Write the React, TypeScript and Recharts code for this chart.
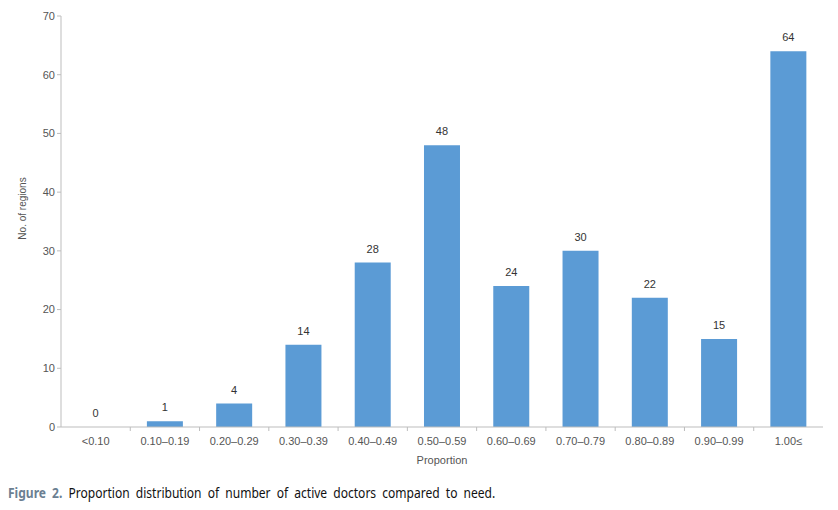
import { BarChart, Bar, XAxis, YAxis, LabelList } from "recharts";

const categories = [
  "<0.10",
  "0.10–0.19",
  "0.20–0.29",
  "0.30–0.39",
  "0.40–0.49",
  "0.50–0.59",
  "0.60–0.69",
  "0.70–0.79",
  "0.80–0.89",
  "0.90–0.99",
  "1.00≤",
];
const regions = [0, 1, 4, 14, 28, 48, 24, 30, 22, 15, 64];
const yTicks = [0, 10, 20, 30, 40, 50, 60, 70];

const data = categories.map((c, i) => ({ name: c, value: regions[i] }));

const FONT = "'Liberation Sans', Arial, sans-serif";

// category ticks with the tick mark drawn on the left boundary of each band
function BoundaryTick(props: any) {
  const { x, y, payload, index, width, visibleTicksCount } = props;
  const band = width / (visibleTicksCount || categories.length);
  return (
    <g>
      {index > 0 && (
        <line x1={x - band / 2} x2={x - band / 2} y1={y - 8} y2={y - 4} stroke="#bdbdbd" />
      )}
      <text x={x} y={y + 10} textAnchor="middle" fontSize={11} fill="#555" fontFamily={FONT}>
        {payload.value}
      </text>
    </g>
  );
}

function YTitle(props: any) {
  const { viewBox } = props;
  const cx = 22;
  const cy = viewBox.y + viewBox.height / 2 - 13;
  return (
    <text
      x={cx}
      y={cy}
      transform={`rotate(-90 ${cx} ${cy})`}
      textAnchor="middle"
      dominantBaseline="central"
      fontSize={10}
      fill="#555"
      fontFamily={FONT}
    >
      No. of regions
    </text>
  );
}

export default function App() {
  return (
    <div style={{ position: "absolute", left: 0, top: 0, width: 838, height: 510, background: "#fff" }}>
      <BarChart
        width={838}
        height={480}
        data={data}
        margin={{ top: 16, right: 15, bottom: 10, left: 10 }}
        barCategoryGap="24%"
      >
        <XAxis
          dataKey="name"
          tick={<BoundaryTick />}
          tickLine={false}
          axisLine={{ stroke: "#bdbdbd" }}
          height={43}
          interval={0}
          label={{ value: "Proportion", position: "insideBottom", offset: 6, fontSize: 11, fill: "#555", fontFamily: FONT }}
        />
        <YAxis
          domain={[0, 70]}
          ticks={yTicks}
          width={51}
          tickSize={4}
          tick={{ fontSize: 11, fill: "#555", fontFamily: FONT }}
          tickLine={{ stroke: "#bdbdbd" }}
          axisLine={{ stroke: "#bdbdbd" }}
          label={<YTitle />}
        />
        <Bar
          dataKey="value"
          fill="#5b9bd5"
          isAnimationActive={false}
          minPointSize={(v: number) => (v === 0 ? 0.01 : 0)}
        >
          <LabelList dataKey="value" position="top" offset={10} fontSize={11} fill="#333" fontFamily={FONT} />
        </Bar>
      </BarChart>
      <div
        style={{
          position: "absolute",
          left: 8,
          top: 483,
          whiteSpace: "nowrap",
          fontFamily: "'Noto Sans', sans-serif",
          fontSize: 14,
          color: "#111",
          wordSpacing: 3.5,
          transform: "scaleX(0.86)",
          transformOrigin: "left center",
        }}
      >
        <span style={{ color: "#6b7f92", fontWeight: 700 }}>Figure 2.</span> Proportion distribution of number of active doctors compared to need.
      </div>
    </div>
  );
}
